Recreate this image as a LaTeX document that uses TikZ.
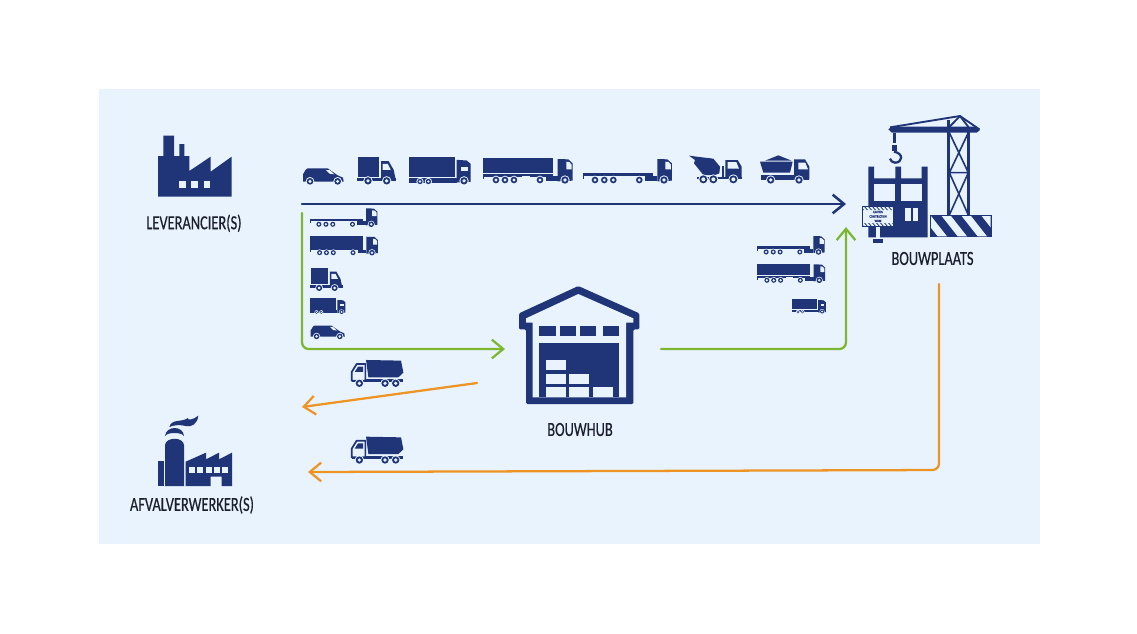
\documentclass[tikz,border=0pt]{standalone}
\usepackage{fontspec}
\setmainfont[FakeStretch=0.72, FakeBold=0.4]{Carlito}
\usetikzlibrary{arrows.meta, positioning}

\definecolor{bouwnavy}{HTML}{1F3577}
\definecolor{bouwpale}{HTML}{E8F3FD}
\definecolor{bouwgreen}{HTML}{7DB72F}
\definecolor{bouworange}{HTML}{EE9424}
\definecolor{bouwink}{HTML}{1B1E2C}

\newcommand{\truckwheel}[3]{%
    \fill[bouwpale] (#1,#2) circle (#3+3);
    \fill[bouwnavy] (#1,#2) circle (#3);
    \fill[bouwpale] (#1,#2) circle (#3*0.5);
}

\tikzset{
    place/.style={font=\fontsize{15}{16}\selectfont, text=bouwink, inner sep=0pt},
    route/.style={line width=#1, line cap=round, line join=round, rounded corners=5pt,
        -{Straight Barb[length=8.5pt, width=14pt]}},
    blueroute/.style={route=1.9pt, draw=bouwnavy},
    greenroute/.style={route=1.7pt, draw=bouwgreen},
    orangeroute/.style={route=1.7pt, draw=bouworange},
    van/.pic={
        \begin{scope}[shift={(-518,-192)}]
            \fill[bouwnavy] (518,182) -- (518,158) to[out=-90,in=180] (532,142) -- (592,142)
                -- (622,163) -- (638,170) -- (640,182) -- cycle;
            \fill[bouwpale] (587,147) -- (598,147) -- (612,160) -- (598,158) -- cycle;
            \truckwheel{539}{181}{10}
            \truckwheel{622}{181}{10}
        \end{scope}
    },
    boxtruck/.pic={
        \begin{scope}[shift={(-680,-192)}]
            \fill[bouwnavy] (684,110) rectangle (745,168);
            \fill[bouwnavy] (680,172) rectangle (798,181);
            \fill[bouwnavy] (752,122) -- (775,122) -- (790,148) -- (795,172) -- (795,181) -- (752,181) -- cycle;
            \fill[bouwpale] (757,130) -- (772,130) -- (781,148) -- (757,148) -- cycle;
            \truckwheel{713}{181}{11}
            \truckwheel{769}{181}{11}
        \end{scope}
    },
    lorry/.pic={
        \begin{scope}[shift={(-836,-192)}]
            \fill[bouwnavy] (838,110) rectangle (975,169);
            \fill[bouwnavy] (838,173) rectangle (980,186);
            \fill[bouwnavy] (980,118) -- (1010,120) -- (1022,130) -- (1022,184) -- (980,186) -- cycle;
            \fill[bouwpale] (994,139) rectangle (1015,151);
            \truckwheel{870}{183}{8}
            \truckwheel{895}{183}{8}
            \truckwheel{1002}{181}{11}
        \end{scope}
    },
    semitrailer/.pic={
        \begin{scope}[shift={(-40,-222)}]
            \fill[bouwnavy] (40,145) rectangle (250,190);
            \fill[bouwnavy] (40,193) rectangle (250,200);
            \fill[bouwnavy] (40,193) rectangle (43,208);
            \fill[bouwnavy] (228,198) rectangle (263,213);
            \fill[bouwnavy] (263,147) -- (295,148) -- (308,160) -- (308,212) -- (263,214) -- cycle;
            \fill[bouwpale] (289,155) -- (298,156) -- (305,164) -- (305,178) -- (289,178) -- cycle;
            \fill[bouwpale] (155,199) rectangle (180,205);
            \truckwheel{78}{210}{10}
            \truckwheel{105}{210}{10}
            \truckwheel{132}{210}{10}
            \truckwheel{210}{210}{10}
            \truckwheel{285}{210}{11}
        \end{scope}
    },
    flatbed/.pic={
        \begin{scope}[shift={(-340,-222)}]
            \fill[bouwnavy] (340,188) rectangle (550,197);
            \fill[bouwnavy] (340,188) rectangle (343,206);
            \fill[bouwnavy] (525,197) rectangle (562,213);
            \fill[bouwnavy] (562,147) -- (592,148) -- (606,160) -- (606,212) -- (562,214) -- cycle;
            \fill[bouwpale] (586,155) -- (596,156) -- (603,164) -- (603,178) -- (586,178) -- cycle;
            \fill[bouwpale] (452,198) rectangle (478,205);
            \truckwheel{375}{210}{10}
            \truckwheel{403}{210}{10}
            \truckwheel{430}{210}{10}
            \truckwheel{508}{210}{10}
            \truckwheel{582}{210}{11}
        \end{scope}
    },
    mixer/.pic={
        \begin{scope}[shift={(-657,-222)}]
            \fill[bouwnavy] (657,137) -- (680,140) -- (730,146) -- (750,170) -- (748,190) -- (735,195)
                -- (700,195) -- (672,160) -- (675,150) -- cycle;
            \fill[bouwnavy] (680,200) rectangle (815,207);
            \fill[bouwnavy] (755,168) rectangle (761,202);
            \fill[bouwnavy] (766,150) -- (803,150) -- (815,170) -- (815,202) -- (766,202) -- cycle;
            \fill[bouwpale] (773,156) -- (799,156) -- (807,176) -- (773,176) -- cycle;
            \truckwheel{700}{208}{12}
            \truckwheel{730}{208}{12}
            \truckwheel{790}{208}{12}
        \end{scope}
    },
    tipper/.pic={
        \begin{scope}[shift={(-870,-222)}]
            \fill[bouwnavy] (885,152) -- (925,136) -- (965,152) -- cycle;
            \fill[bouwnavy] (870,155) -- (968,155) -- (960,188) -- (880,188) -- cycle;
            \fill[bouwnavy] (972,148) -- (1005,148) -- (1018,170) -- (1018,208) -- (972,208) -- cycle;
            \fill[bouwpale] (985,158) -- (1006,158) -- (1014,178) -- (985,178) -- cycle;
            \fill[bouwnavy] (873,194) rectangle (1018,209);
            \truckwheel{902}{210}{11}
            \truckwheel{987}{210}{11}
        \end{scope}
    },
    dumper/.pic={
        \begin{scope}[shift={(-692,-112)}]
            \fill[bouwnavy] (738,30) -- (843,32) -- (850,68) -- (835,82) -- (745,82) -- cycle;
            \fill[bouwnavy] (695,87) rectangle (850,96);
            \draw[bouwnavy, line width=1.3pt, line join=round, fill=bouwpale]
                (695,92) -- (695,66) -- (710,42) -- (736,42) -- (736,92) -- cycle;
            \fill[bouwnavy] (704,66) -- (714,50) -- (729,50) -- (729,66) -- cycle;
            \truckwheel{718}{100}{11}
            \truckwheel{795}{100}{11}
            \truckwheel{827}{100}{11}
        \end{scope}
    },
}

\begin{document}
\begin{tikzpicture}[x=0.75pt, y=-0.75pt]

    \useasboundingbox (0,0) rectangle (1137,633);
    \fill[bouwpale] (99,89) rectangle (1040,544);

    % -------------------------------------------------------------
    % Leverancier(s)
    % -------------------------------------------------------------
    \begin{scope}[shift={(130,120)}, scale=1/3]
        \fill[bouwnavy] (84,108) -- (100,108) -- (100,47) -- (132,47) -- (132,108) -- (148,108)
            -- (148,72) -- (163,72) -- (163,108) -- (178,108) -- (178,153) -- (242,110) -- (242,155)
            -- (305,110) -- (305,230) -- (84,230) -- cycle;
        \foreach \wx in {147,184,221}
            \fill[bouwpale] (\wx,183) rectangle (\wx+20,203);
    \end{scope}
    \coordinate (supplierBase) at (194,197);
    \node[place] (supplier) [below=13pt of supplierBase] {LEVERANCIER(S)};

    % -------------------------------------------------------------
    % Direct deliveries, with the whole fleet above the line
    % -------------------------------------------------------------
    \pic[scale=1/3] at (303,185) {van};
    \pic[scale=1/3] at (357,184.5) {boxtruck};
    \pic[scale=1/3] at (408.7,184.5) {lorry};
    \pic[scale=1/3] at (483.3,184) {semitrailer};
    \pic[scale=1/3] at (583.3,184) {flatbed};
    \pic[scale=1/3] at (689,184) {mixer};
    \pic[scale=1/3] at (760,184) {tipper};

    \coordinate (directStart) at (302,204);
    \coordinate (directEnd) at (846,204);
    \draw[blueroute] (directStart) -- (directEnd);

    % -------------------------------------------------------------
    % Supplier to hub
    % -------------------------------------------------------------
    \pic[scale=0.253] at (310,227.3) {flatbed};
    \pic[scale=0.253] at (310,255.7) {semitrailer};
    \pic[scale=0.277] at (310,291) {boxtruck};
    \pic[scale=0.19] at (310,314) {lorry};
    \pic[scale=0.28] at (310.7,339.5) {van};

    \coordinate (hubInStart) at (302,213);
    \coordinate (hubInEnd) at (505,349);
    \draw[greenroute] (hubInStart) |- (hubInEnd);

    % -------------------------------------------------------------
    % Bouwhub
    % -------------------------------------------------------------
    \begin{scope}[shift={(500,280)}, scale=1/3]
        \fill[bouwnavy, rounded corners=1pt] (57,100) -- (235,18) -- (418,100) -- (418,148) -- (400,148)
            -- (400,372) -- (78,372) -- (78,148) -- (57,148) -- cycle;
        \fill[bouwpale] (78,115) -- (235,42) -- (400,115) -- (400,128) -- (378,128) -- (378,352)
            -- (98,352) -- (98,128) -- (78,128) -- cycle;
        \foreach \sx/\sw in {117/50, 180/49, 240/49, 308/50}
            \fill[bouwnavy] (\sx,138) rectangle (\sx+\sw,168);
        \fill[bouwnavy] (118,190) rectangle (358,352);
        \foreach \cx/\cy in {138/240, 138/281, 138/322, 208/281, 208/322, 279/322}
            \fill[bouwpale] (\cx,\cy) rectangle (\cx+60,\cy+30);
    \end{scope}
    \coordinate (hubBase) at (580,404);
    \node[place] (hub) [below=14pt of hubBase] {BOUWHUB};

    % -------------------------------------------------------------
    % Hub to site
    % -------------------------------------------------------------
    \pic[scale=0.253] at (757.3,255) {flatbed};
    \pic[scale=0.253] at (757.3,283.3) {semitrailer};
    \pic[scale=0.183] at (791.7,313.5) {lorry};

    \coordinate (hubOutStart) at (661,349);
    \coordinate (hubOutEnd) at (846,227);
    \draw[greenroute] (hubOutStart) -| (hubOutEnd);

    % -------------------------------------------------------------
    % Bouwplaats
    % -------------------------------------------------------------
    \begin{scope}[shift={(750,110)}, scale=1/3]
        % crane
        \fill[bouwnavy] (590,30) rectangle (600,315);
        \fill[bouwnavy] (652,50) rectangle (661,315);
        \fill[bouwnavy] (415,58) -- (425,50) -- (680,50) -- (690,60) -- (680,68) -- (425,68) -- cycle;
        \draw[bouwnavy, line width=1.4pt] (420,52) -- (630,18) -- (688,58);
        \draw[bouwnavy, line width=1.4pt] (630,18) -- (597,52) (630,18) -- (656,52);
        \draw[bouwnavy, line width=1.2pt] (598,68) -- (655,188) (655,68) -- (598,188)
            (598,188) -- (655,315) (655,188) -- (598,315) (598,188) -- (655,188);
        \fill[bouwnavy] (428,68) rectangle (438,100);
        \fill[bouwnavy] (426,104) rectangle (441,124);
        \draw[bouwnavy, line width=1.7pt] (432,125) .. controls (462,130) and (458,158) .. (435,158)
            .. controls (428,158) and (421,152) .. (420,146);
        % building
        \fill[bouwnavy] (355,170) -- (372,170) -- (372,205) -- (436,205) -- (436,170) -- (453,170)
            -- (453,205) -- (515,205) -- (515,170) -- (533,170) -- (533,382) -- (355,382) -- cycle;
        \fill[bouwpale] (372,222) rectangle (436,272);
        \fill[bouwpale] (453,222) rectangle (515,272);
        \fill[bouwpale] (465,295) rectangle (505,333);
        \fill[bouwnavy] (482,295) rectangle (488,333);
        % sign
        \fill[bouwpale] (378,352) rectangle (390,385);
        \fill[bouwnavy] (368,386) rectangle (400,400);
        \fill[bouwnavy] (335,287) rectangle (433,352);
        \fill[bouwpale] (338,290) rectangle (430,349);
        \begin{scope}
            \clip (338,290) rectangle (430,300) (338,339) rectangle (430,349);
            \foreach \hx in {330,342,...,430}
                \draw[bouwnavy, line width=0.6pt] (\hx,288) -- (\hx+12,302) (\hx,337) -- (\hx+12,351);
        \end{scope}
        \node[text=bouwnavy, font=\fontsize{2.7}{3.4}\selectfont, align=center, inner sep=0pt] (signText)
            at (384,319.5) {CAUTION\\CONSTRUCTION\\WORK};
        % hazard base
        \fill[bouwnavy] (540,315) rectangle (725,382);
        \begin{scope}
            \clip (543,318) rectangle (722,379);
            \foreach \hx in {515,575,...,735}
                \fill[bouwpale] (\hx,318) -- ++(28,0) -- ++(48,61) -- ++(-28,0) -- cycle;
        \end{scope}
    \end{scope}
    \coordinate (siteBase) at (932.5,237);
    \node[place] (site) [below=11pt of siteBase] {BOUWPLAATS};

    % -------------------------------------------------------------
    % Afvalverwerker(s) and the waste routes
    % -------------------------------------------------------------
    \begin{scope}[shift={(120,350)}, scale=1/3]
        \fill[bouwnavy] (148,231) .. controls (155,205) and (185,218) .. (204,204) .. controls (200,212) and (220,210) .. (235,197)
            .. controls (232,222) and (215,232) .. (198,228) .. controls (180,224) and (165,224) .. (148,231) -- cycle;
        \fill[bouwnavy] (135,258) .. controls (138,226) and (190,226) .. (192,258)
            .. controls (185,246) and (142,246) .. (135,258) -- cycle;
        \fill[bouwnavy] (135,408) -- (135,285) .. controls (138,260) and (190,260) .. (192,285) -- (192,408) -- cycle;
        \fill[bouwnavy] (113,332) rectangle (132,408);
        \fill[bouwnavy] (197,335) -- (258,308) -- (258,328) -- (297,308) -- (297,328) -- (336,308)
            -- (336,408) -- (305,408) -- (305,380) -- (272,380) -- (272,408) -- (197,408) -- cycle;
        \foreach \wx in {207,232,257,282,306}
            \fill[bouwpale] (\wx,350) rectangle (\wx+18,368);
    \end{scope}
    \coordinate (wasteBase) at (192,486);
    \node[place] (waste) [below=7.5pt of wasteBase] {AFVALVERWERKER(S)};

    \pic[scale=1/3] at (350.7,387.3) {dumper};
    \pic[scale=1/3] at (350.7,464) {dumper};

    \coordinate (hubWasteStart) at (477,383);
    \coordinate (hubWasteEnd) at (302,407);
    \draw[orangeroute] (hubWasteStart) -- (hubWasteEnd);

    \coordinate (siteWasteStart) at (939,284);
    \coordinate (siteWasteBend) at (939,470);
    \coordinate (siteWasteEnd) at (308,472);
    \draw[orangeroute] (siteWasteStart) -- (siteWasteBend) -- (siteWasteEnd);

\end{tikzpicture}
\end{document}
